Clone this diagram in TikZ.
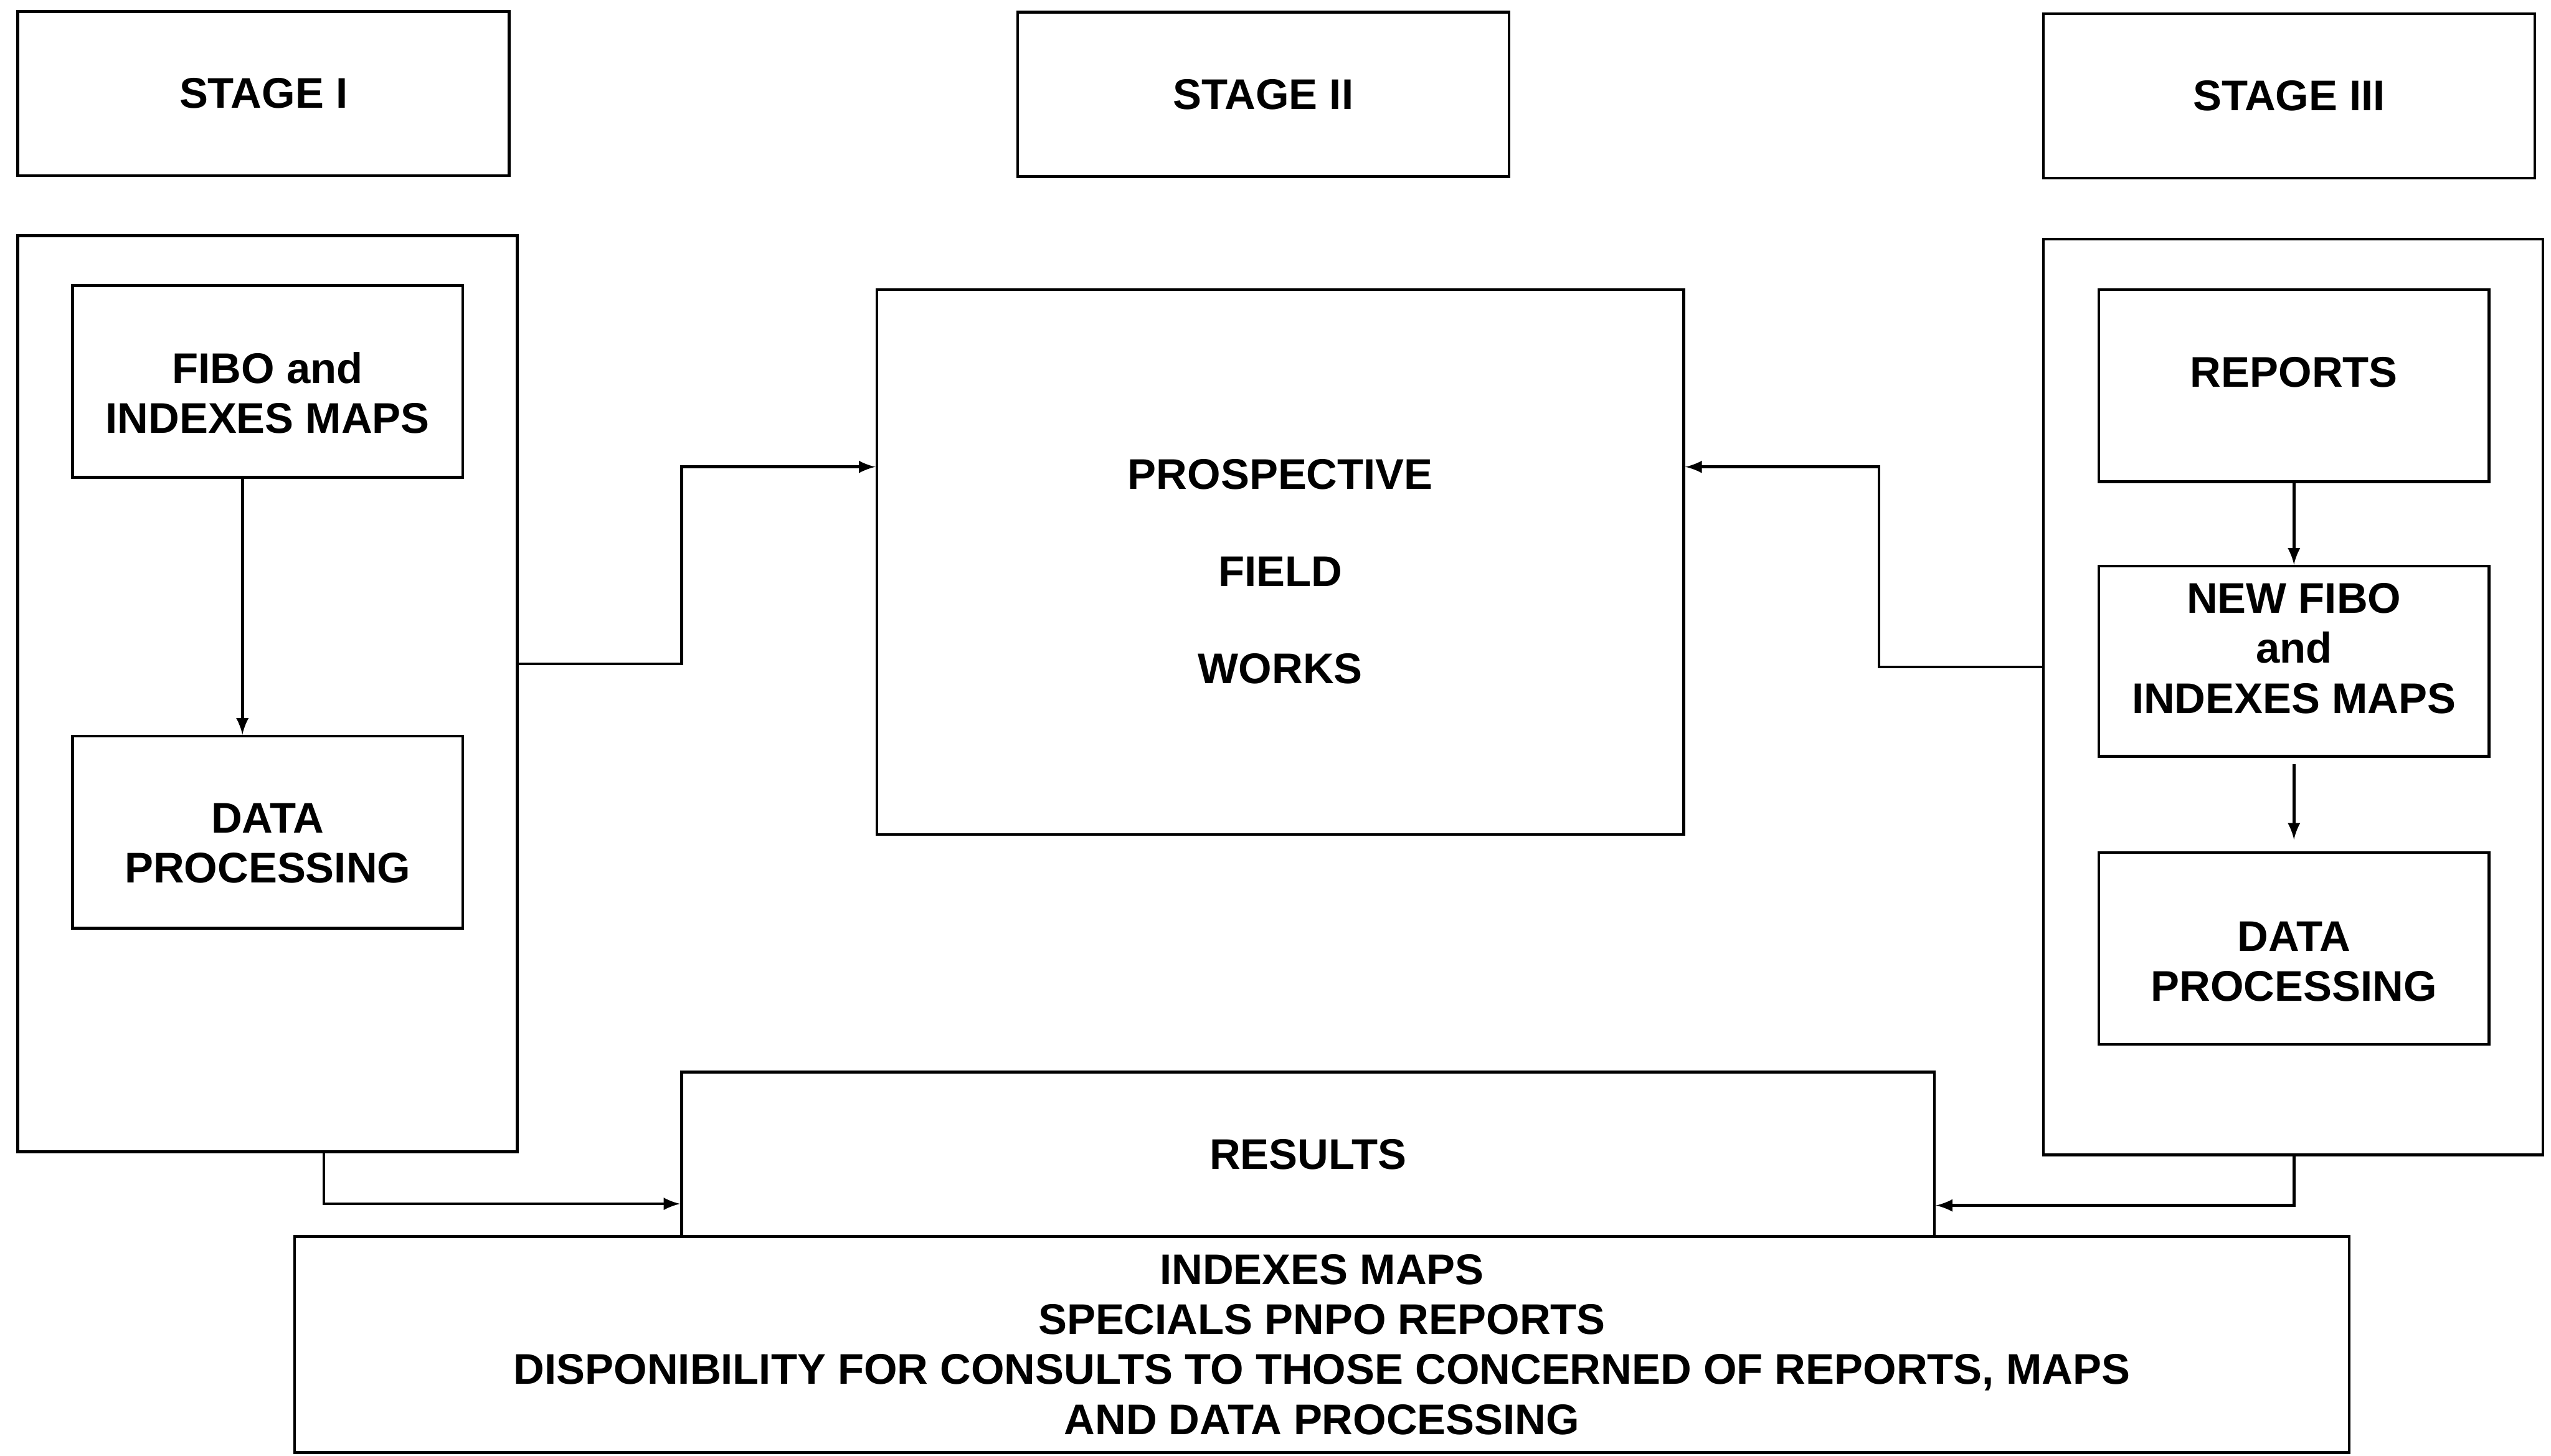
\documentclass[tikz,border=0pt]{standalone}
\usepackage{fontspec}
\setmainfont{Liberation Sans}
\usetikzlibrary{arrows}
\begin{document}
\begin{tikzpicture}[x=0.2mm, y=-0.2mm, line width=1pt, >=latex,
        every node/.style={font=\fontsize{15}{17.5}\selectfont\bfseries, align=center}]
            \tikzstyle{box}=[draw, line width=1pt, inner sep=0pt]
            \tikzstyle{stagebox}=[box, minimum width=60.4mm, minimum height=20.2mm]
            \tikzstyle{panel}=[box, minimum width=61.4mm, minimum height=112.6mm]
            \tikzstyle{inner}=[box, minimum width=48mm, minimum height=23.6mm]
            \useasboundingbox (0,0) rectangle (1568,895);
            % Stage headers
            \node[stagebox] (stage1) at (162,57.5) {STAGE I};
            \node[stagebox] (stage2) at (776.5,58) {STAGE II};
            \node[stagebox] (stage3) at (1407,59) {STAGE III};
            % Stage I
            \node[panel] (panel1) at (164.5,426.5) {};
            \node[inner, label={[yshift=-1.4mm]center:{FIBO and\\INDEXES MAPS}}] (fibo) at (164.5,234.5) {};
            \node[inner, label={[yshift=-1.4mm]center:{DATA\\PROCESSING}}] (data1) at (164.5,511.5) {};
            % Stage II
            \node[box, minimum width=99.2mm, minimum height=67mm,
                label={[yshift=-1.2mm]center:{PROSPECTIVE\\[5.8mm]FIELD\\[5.8mm]WORKS}}] (prospective) at (787,345.5) {};
            % Stage III
            \node[panel] (panel3) at (1409.5,428.5) {};
            \node[inner, label={[yshift=1.6mm]center:REPORTS}] (reports) at (1410,237) {};
            \node[inner, minimum height=23.4mm,
                label={[yshift=1.6mm]center:{NEW FIBO\\and\\INDEXES MAPS}}] (newfibo) at (1410,406.5) {};
            \node[inner, label={[yshift=-1.6mm]center:{DATA\\PROCESSING}}] (data3) at (1410,583) {};
            % Results
            \node[box, minimum width=154mm, minimum height=20.2mm] (results) at (804,709.5) {RESULTS};
            \node[box, minimum width=252.6mm, minimum height=26.6mm] (summary) at (812.5,826.5)
                {INDEXES MAPS\\SPECIALS PNPO REPORTS\\DISPONIBILITY FOR CONSULTS TO THOSE CONCERNED OF REPORTS, MAPS\\AND DATA PROCESSING};
            % Connectors
            \coordinate (fibodown) at (149,0);
            \coordinate (lbend) at (419,408);
            \coordinate (ltop) at (419,287);
            \coordinate (rbend) at (1155,410);
            \coordinate (rtop) at (1155,287);
            \coordinate (lbot) at (199,740);
            \coordinate (rbot) at (1410,741);
            \draw[->] (fibo.south -| fibodown) -- (data1.north -| fibodown);
            \draw[->] (reports) -- (newfibo);
            \draw[->, shorten <=0.8mm, shorten >=1.4mm] (newfibo) -- (data3);
            \draw[->] (panel1.east |- lbend) -- (lbend) -- (ltop) -- (ltop -| prospective.west);
            \draw[->] (panel3.west |- rbend) -- (rbend) -- (rtop) -- (rtop -| prospective.east);
            \draw[->] (lbot |- panel1.south) -- (lbot) -- (lbot -| results.west);
            \draw[->] (rbot |- panel3.south) -- (rbot) -- (rbot -| results.east);
        \end{tikzpicture}
\end{document}
